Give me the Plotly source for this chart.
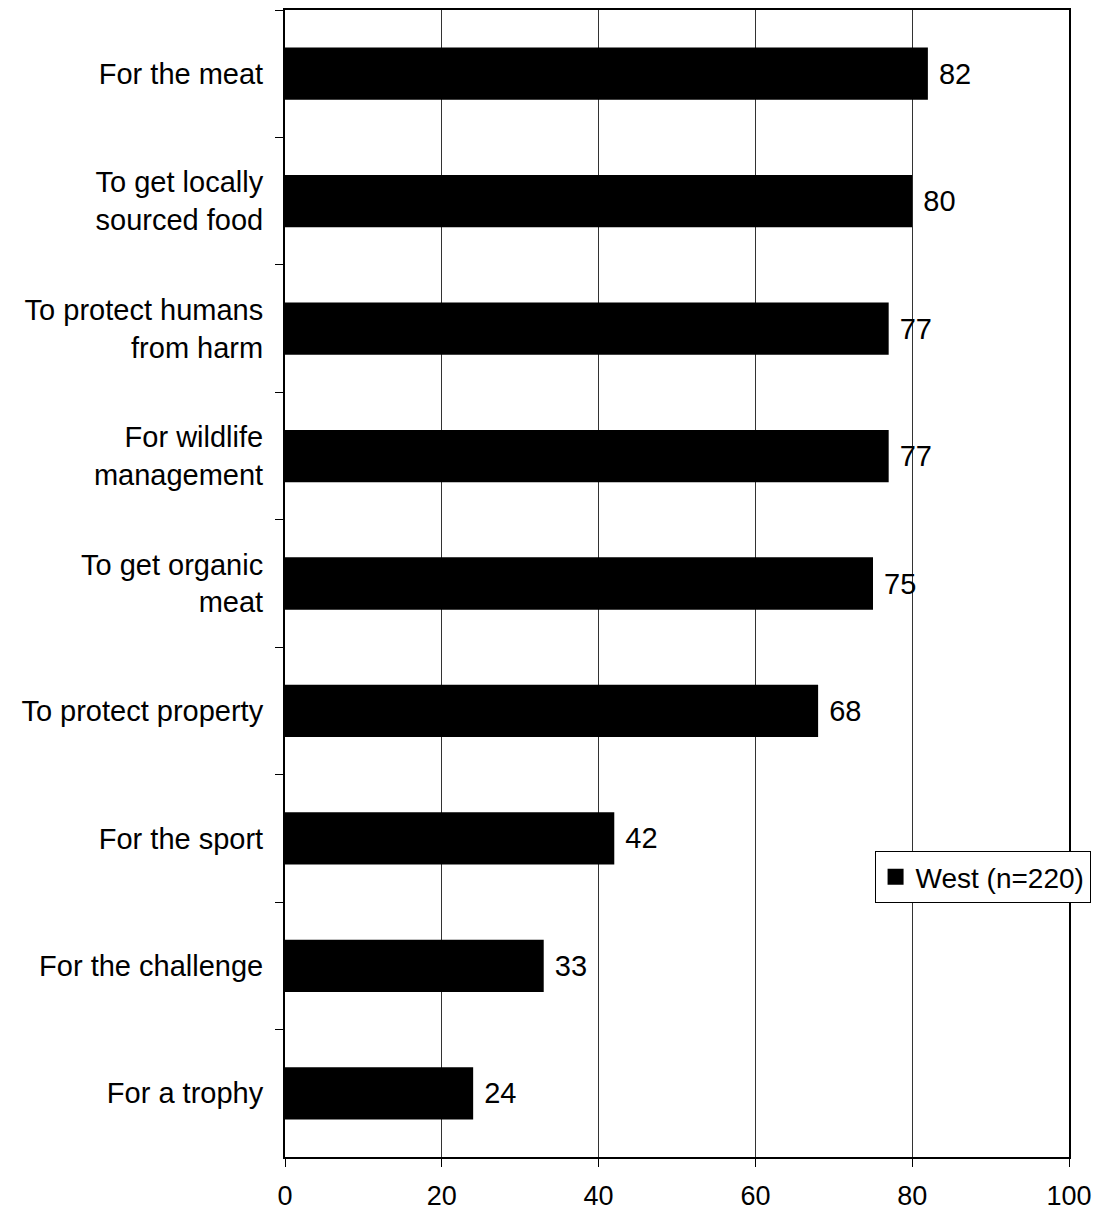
import plotly.graph_objects as go

categories = [
    "For the meat",
    "To get locally<br>sourced food",
    "To protect humans<br>from harm",
    "For wildlife<br>management",
    "To get organic<br>meat",
    "To protect property",
    "For the sport",
    "For the challenge",
    "For a trophy",
]
values = [82, 80, 77, 77, 75, 68, 42, 33, 24]
series_name = "West (n=220)"
x_ticks = [0, 20, 40, 60, 80, 100]

FONT = "Liberation Sans, Arial, sans-serif"
FS = 29

fig = go.Figure()
fig.add_trace(go.Bar(
    y=categories,
    x=values,
    orientation="h",
    name=series_name,
    marker=dict(color="black", line=dict(width=0)),
    text=[f" {v}" for v in values],
    textposition="outside",
    textfont=dict(family=FONT, size=FS, color="black"),
    cliponaxis=False,
    showlegend=False,
))
# legend-only entry with a larger square symbol
fig.add_trace(go.Scatter(
    x=[None], y=[None],
    mode="markers",
    name=series_name,
    marker=dict(symbol="square", size=16, color="black"),
    showlegend=True,
    hoverinfo="skip",
))

fig.update_layout(
    width=1100,
    height=1213,
    margin=dict(l=285, r=31, t=10, b=56, autoexpand=False),
    plot_bgcolor="white",
    paper_bgcolor="white",
    bargap=0.59,
    font=dict(family=FONT, size=FS, color="black"),
    showlegend=True,
    legend=dict(
        x=0.752, y=0.2668, xanchor="left", yanchor="top",
        bgcolor="white", bordercolor="black", borderwidth=1,
        font=dict(family=FONT, size=28, color="black"),
        itemwidth=30,
    ),
)

fig.update_xaxes(
    range=[0, 100],
    tickvals=x_ticks,
    ticktext=[str(t) for t in x_ticks],
    showgrid=True, gridcolor="#333333", gridwidth=1,
    showline=True, linecolor="black", linewidth=2, mirror=True,
    ticks="outside", ticklen=8, tickcolor="black", tickwidth=1,
    ticklabelstandoff=6,
    tickfont=dict(family=FONT, size=27, color="black"),
    zeroline=False,
)
fig.update_yaxes(
    categoryorder="array",
    categoryarray=categories,
    autorange="reversed",
    tickson="boundaries",
    showgrid=False,
    showline=True, linecolor="black", linewidth=2, mirror=True,
    ticks="outside", ticklen=8, tickcolor="black", tickwidth=1,
    ticklabelstandoff=14,
    tickfont=dict(family=FONT, size=FS, color="black"),
)

fig.write_html(
    "out.html",
    config={"displayModeBar": False},
    post_script="document.body.style.margin='0';document.body.style.overflow='hidden';",
)
